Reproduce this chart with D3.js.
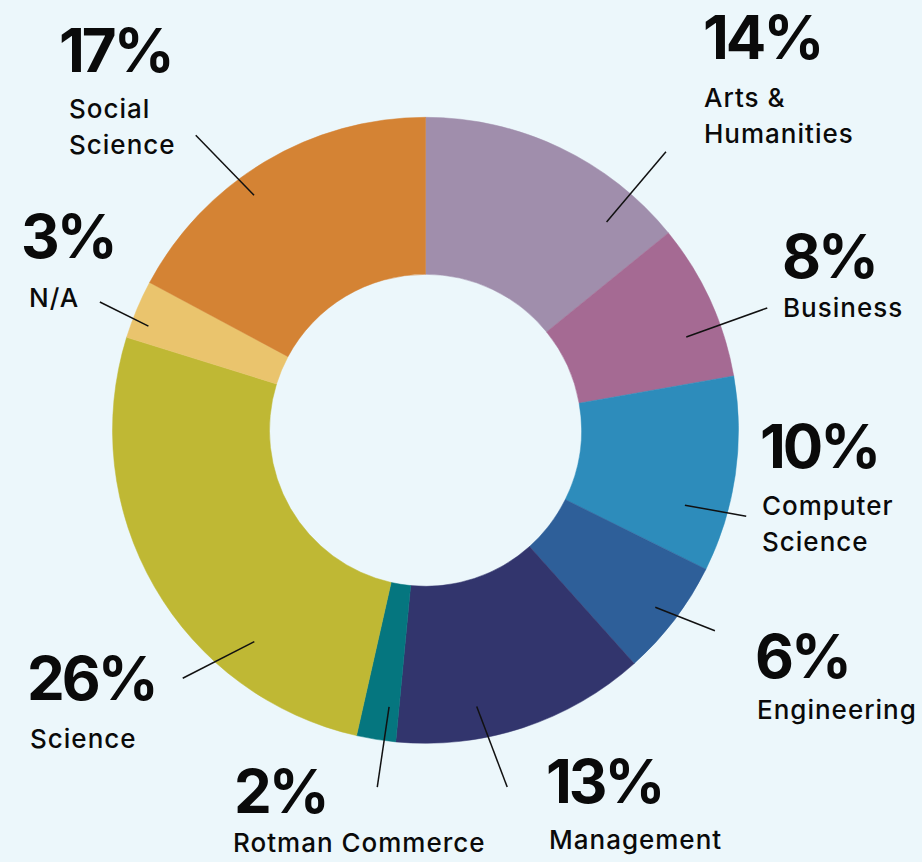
<!DOCTYPE html>
<html>
<head>
<meta charset="utf-8">
<script src="https://cdn.jsdelivr.net/npm/d3@7"></script>
<style>
  html, body { margin: 0; padding: 0; background: #ecf7fb; }
  svg { display: block; }
</style>
</head>
<body>
<svg class="chart"></svg>
<script>
// data
const categories = ['Arts & Humanities', 'Business', 'Computer Science', 'Engineering', 'Management',
  'Rotman Commerce', 'Science', 'N/A', 'Social Science'];
const percents = [14, 8, 10, 6, 13, 2, 26, 3, 17];
const labelLines = [['Arts &', 'Humanities'], ['Business'], ['Computer', 'Science'], ['Engineering'],
  ['Management'], ['Rotman Commerce'], ['Science'], ['N/A'], ['Social', 'Science']];
const colors = ['#a08eac', '#a56a93', '#2d8cbb', '#2e5f99', '#32356d', '#05767f', '#bfb834', '#eac46d', '#d48334'];

// label placement: percent x / baseline y, label x / first baseline, leader line in polar [deg, r]
const labelPos = [
  {x: 703, y: 59, lx: 704, ly: 107, from: [41, 276], to: [40.8, 368]},
  {x: 782, y: 278, lx: 783, ly: 317, from: [70.3, 277], to: [70.3, 363]},
  {x: 760, y: 468, lx: 762, ly: 515, from: [106.1, 270], to: [105, 332]},
  {x: 755, y: 678, lx: 757, ly: 719, from: [127.6, 290], to: [124.7, 352]},
  {x: 546, y: 803, lx: 549, ly: 849, from: [169.5, 281], to: [167.1, 366]},
  {x: 234, y: 813, lx: 233, ly: 852, from: [187.5, 279], to: [187.7, 360]},
  {x: 27, y: 700, lx: 30, ly: 748, from: [219, 272], to: [224.4, 347]},
  {x: 21, y: 258, lx: 29, ly: 307, from: [290.6, 296], to: [291.5, 350]},
  {x: 59, y: 72, lx: 69, ly: 118, from: [323.9, 291], to: [322.1, 374]}
];

const width = 922;
const height = 862;
const cx = 425.5, cy = 430.3;
const outerR = 313, innerR = 156;

const svg = d3.select('.chart').attr('width', width).attr('height', height);
svg.append('rect').attr('width', width).attr('height', height).attr('fill', '#ecf7fb');

const pie = d3.pie().sort(null).value(d => d)(percents);
const arc = d3.arc().innerRadius(innerR).outerRadius(outerR);

const g = svg.append('g').attr('transform', `translate(${cx},${cy})`);
g.selectAll('path.slice')
  .data(pie)
  .join('path')
  .attr('class', 'slice')
  .attr('d', arc)
  .attr('fill', (d, i) => colors[i])
  .attr('stroke', (d, i) => colors[i])
  .attr('stroke-width', 0.5);

const polar = (deg, r) => {
  const a = deg * Math.PI / 180;
  return [r * Math.sin(a), -r * Math.cos(a)];
};

// leader lines
g.selectAll('line.leader')
  .data(labelPos)
  .join('line')
  .attr('class', 'leader')
  .attr('x1', d => polar(d.from[0], d.from[1])[0])
  .attr('y1', d => polar(d.from[0], d.from[1])[1])
  .attr('x2', d => polar(d.to[0], d.to[1])[0])
  .attr('y2', d => polar(d.to[0], d.to[1])[1])
  .attr('stroke', '#111')
  .attr('stroke-width', 1.5);

// labels
const lab = svg.selectAll('g.label')
  .data(categories)
  .join('g')
  .attr('class', 'label');

lab.append('text')
  .attr('x', (d, i) => labelPos[i].x)
  .attr('y', (d, i) => labelPos[i].y)
  .attr('font-family', 'Inter, sans-serif')
  .attr('font-weight', 700)
  .attr('font-size', 60)
  .attr('letter-spacing', -3)
  .attr('fill', '#0a0a0a')
  .text((d, i) => percents[i] + '%');

lab.each(function(d, i) {
  const t = d3.select(this).append('text')
    .attr('font-family', 'Inter, sans-serif')
    .attr('font-weight', 500)
    .attr('font-size', 26)
    .attr('letter-spacing', 1)
    .attr('fill', '#0a0a0a');
  labelLines[i].forEach((line, k) => {
    t.append('tspan')
      .attr('x', labelPos[i].lx)
      .attr('y', labelPos[i].ly + k * 36)
      .text(line);
  });
});
</script>
</body>
</html>
